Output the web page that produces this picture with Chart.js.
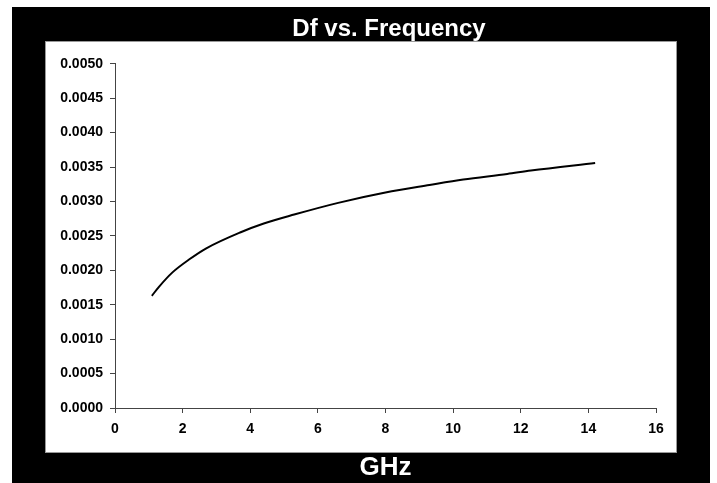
<!DOCTYPE html>
<html>
<head>
<meta charset="utf-8">
<script src="https://cdn.jsdelivr.net/npm/chart.js@4.4.1/dist/chart.umd.min.js"></script>
<style>
  html, body { margin: 0; padding: 0; background: #fff; overflow: hidden; width: 717px; height: 483px; }
  #frame { position: absolute; left: 12px; top: 7px; width: 698px; height: 476px; background: #000; }
  #plotBox { position: absolute; left: 45px; top: 41px; width: 630px; height: 410px; background: #fff; border: 1px solid #999; }
  #wrap { position: absolute; left: 45px; top: 0; width: 688px; height: 483px; }
</style>
</head>
<body>
<div id="frame"></div>
<div id="plotBox"></div>
<div id="wrap"><canvas id="dfChart"></canvas></div>
<script>
// values
const frequencyGHz = [1.09, 1.3, 1.7, 2.2, 2.7, 3.7, 4.4, 5.3, 6.6, 8.0, 9.3, 10.3, 11.6, 12.3, 14.2];
const dfValues = [0.00163, 0.00176, 0.00197, 0.00216, 0.00232, 0.00255, 0.00268, 0.00281, 0.00298,
                  0.00313, 0.00324, 0.00332, 0.00340, 0.00345, 0.00356];
const xTickValues = [0, 2, 4, 6, 8, 10, 12, 14, 16];
const yTickValues = [0, 0.0005, 0.001, 0.0015, 0.002, 0.0025, 0.003, 0.0035, 0.004, 0.0045, 0.005];

const FONT = '"Liberation Sans", Arial, sans-serif';

const points = frequencyGHz.map((f, i) => ({ x: f, y: dfValues[i] }));

const ctx = document.getElementById('dfChart').getContext('2d');
new Chart(ctx, {
  type: 'line',
  data: {
    datasets: [{
      label: 'Df',
      data: points,
      borderColor: '#000',
      borderWidth: 2,
      pointRadius: 0,
      cubicInterpolationMode: 'monotone',
      fill: false
    }]
  },
  options: {
    responsive: true,
    maintainAspectRatio: false,
    animation: false,
    layout: {
      padding: 0
    },
    plugins: {
      legend: { display: false },
      tooltip: { enabled: false },
      title: {
        display: true,
        text: 'Df vs. Frequency',
        color: '#fff',
        font: { family: FONT, size: 24, weight: 'bold' },
        padding: { top: 15, bottom: 20 }
      }
    },
    scales: {
      x: {
        type: 'linear',
        min: 0,
        max: 16,
        afterBuildTicks: axis => { axis.ticks = xTickValues.map(v => ({ value: v })); },
        grid: { drawOnChartArea: false, drawTicks: true, tickLength: 5, color: '#444' },
        border: { color: '#444', width: 1 },
        ticks: {
          color: '#000',
          padding: 8,
          maxRotation: 0,
          font: { family: FONT, size: 14, weight: 'bold' }
        },
        title: {
          display: true,
          text: 'GHz',
          color: '#fff',
          font: { family: FONT, size: 26, weight: 'bold' },
          padding: { top: 6, bottom: 0 }
        }
      },
      y: {
        min: 0,
        max: 0.005,
        afterBuildTicks: axis => { axis.ticks = yTickValues.map(v => ({ value: v })); },
        afterFit: axis => { axis.width = 70; },
        grid: { drawOnChartArea: false, drawTicks: true, tickLength: 5, color: '#444' },
        border: { color: '#444', width: 1 },
        ticks: {
          color: '#000',
          padding: 7,
          font: { family: FONT, size: 14, weight: 'bold' },
          callback: value => Number(value).toFixed(4)
        }
      },
      // empty spacer on the right so the plot ends where the reference does
      yRight: {
        position: 'right',
        afterFit: axis => { axis.width = 77; },
        ticks: { display: false },
        grid: { display: false },
        border: { display: false }
      }
    }
  }
});
</script>
</body>
</html>
